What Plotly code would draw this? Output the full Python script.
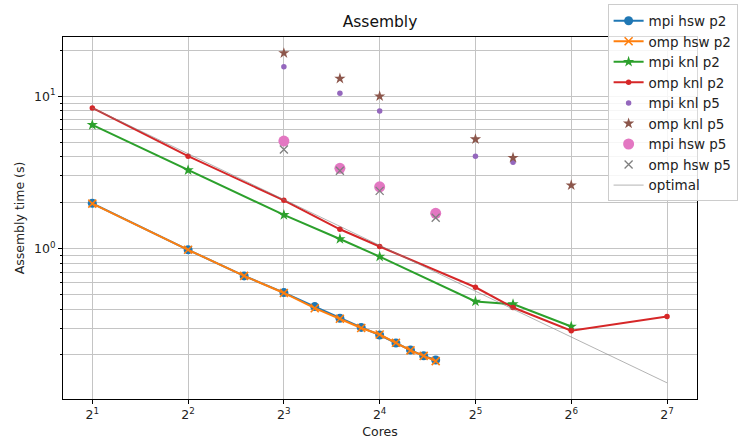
import plotly.graph_objects as go
import math

# ---- data ----
hsw_cores = [2, 4, 6, 8, 10, 12, 14, 16, 18, 20, 22, 24]
mpi_hsw_p2 = [1.98, 0.98, 0.66, 0.513, 0.415, 0.348, 0.303, 0.270, 0.239, 0.215, 0.197, 0.185]
omp_hsw_p2 = [1.97, 0.98, 0.66, 0.510, 0.405, 0.345, 0.300, 0.272, 0.240, 0.214, 0.197, 0.182]

knl_cores_mpi = [2, 4, 8, 12, 16, 32, 42, 64]
mpi_knl_p2 = [6.48, 3.27, 1.66, 1.154, 0.884, 0.448, 0.431, 0.307]
knl_cores_omp = [2, 4, 8, 12, 16, 32, 42, 64, 128]
omp_knl_p2 = [8.38, 4.04, 2.07, 1.336, 1.03, 0.556, 0.409, 0.288, 0.357]

mpi_knl_p5_cores = [8, 12, 16, 32, 42]
mpi_knl_p5 = [15.6, 10.46, 8.01, 4.04, 3.69]
omp_knl_p5_cores = [8, 12, 16, 32, 42, 64]
omp_knl_p5 = [19.2, 13.06, 10.0, 5.22, 3.94, 2.60]
mpi_hsw_p5_cores = [8, 12, 16, 24]
mpi_hsw_p5 = [5.07, 3.36, 2.54, 1.70]
omp_hsw_p5_cores = [8, 12, 16, 24]
omp_hsw_p5 = [4.47, 3.24, 2.39, 1.59]

optimal_cores = [2, 4, 8, 16, 32, 64, 128]
optimal = [8.38, 4.19, 2.095, 1.0475, 0.524, 0.262, 0.131]

x_ticks = [2, 4, 8, 16, 32, 64, 128]
x_ticktext = ["2<sup>1</sup>", "2<sup>2</sup>", "2<sup>3</sup>", "2<sup>4</sup>",
              "2<sup>5</sup>", "2<sup>6</sup>", "2<sup>7</sup>"]
y_ticks = [1, 10]
y_ticktext = ["10<sup>0</sup>", "10<sup>1</sup>"]
y_minor = [0.2, 0.3, 0.4, 0.5, 0.6, 0.7, 0.8, 0.9, 2, 3, 4, 5, 6, 7, 8, 9, 20]

BLUE, ORANGE, GREEN, RED = "#1f77b4", "#ff7f0e", "#2ca02c", "#d62728"
PURPLE, BROWN, PINK, GRAY = "#9467bd", "#8c564b", "#e377c2", "#7f7f7f"

fig = go.Figure()
fig.add_trace(go.Scatter(x=hsw_cores, y=mpi_hsw_p2, name="mpi hsw p2", mode="lines+markers",
                         line=dict(color=BLUE, width=2),
                         marker=dict(symbol="circle", size=9, color=BLUE)))
fig.add_trace(go.Scatter(x=hsw_cores, y=omp_hsw_p2, name="omp hsw p2", mode="lines+markers",
                         line=dict(color=ORANGE, width=2),
                         marker=dict(symbol="x-thin", size=8, color=ORANGE,
                                     line=dict(color=ORANGE, width=1.6))))
fig.add_trace(go.Scatter(x=knl_cores_mpi, y=mpi_knl_p2, name="mpi knl p2", mode="lines+markers",
                         line=dict(color=GREEN, width=2),
                         marker=dict(symbol="star", size=8.5, color=GREEN)))
fig.add_trace(go.Scatter(x=knl_cores_omp, y=omp_knl_p2, name="omp knl p2", mode="lines+markers",
                         line=dict(color=RED, width=2),
                         marker=dict(symbol="circle", size=5.5, color=RED)))
fig.add_trace(go.Scatter(x=mpi_knl_p5_cores, y=mpi_knl_p5, name="mpi knl p5", mode="markers",
                         marker=dict(symbol="circle", size=5.5, color=PURPLE)))
fig.add_trace(go.Scatter(x=omp_knl_p5_cores, y=omp_knl_p5, name="omp knl p5", mode="markers",
                         marker=dict(symbol="star", size=8.5, color=BROWN)))
fig.add_trace(go.Scatter(x=mpi_hsw_p5_cores, y=mpi_hsw_p5, name="mpi hsw p5", mode="markers",
                         marker=dict(symbol="circle", size=11, color=PINK)))
fig.add_trace(go.Scatter(x=omp_hsw_p5_cores, y=omp_hsw_p5, name="omp hsw p5", mode="markers",
                         marker=dict(symbol="x-thin", size=8, color=GRAY,
                                     line=dict(color=GRAY, width=1.3))))
fig.add_trace(go.Scatter(x=optimal_cores, y=optimal, name="optimal", mode="lines",
                         line=dict(color="rgba(128,128,128,0.6)", width=1)))

font = "DejaVu Sans, sans-serif"
fig.update_layout(
    width=740, height=445,
    margin=dict(l=63, r=43, t=37, b=46, autoexpand=False),
    paper_bgcolor="white", plot_bgcolor="white",
    font=dict(family=font, size=12, color="#222"),
    title=dict(text="Assembly", x=0.5, xref="paper", xanchor="center",
               y=1 - 22 / 445, yref="container", yanchor="middle",
               font=dict(size=15.5, color="#111")),
    legend=dict(x=0.859, y=1.09, xanchor="left", yanchor="top",
                bgcolor="rgba(255,255,255,0.85)", bordercolor="#cccccc", borderwidth=1,
                font=dict(size=13.5, color="#222"), tracegroupgap=0),
    xaxis=dict(type="log", range=[math.log10(2 ** 0.694), math.log10(2 ** 7.313)],
               tickvals=x_ticks, ticktext=x_ticktext,
               showgrid=True, gridcolor="#c4c4c4", gridwidth=1,
               showline=True, linecolor="black", linewidth=1, mirror=True,
               ticks="outside", ticklen=4, tickcolor="black",
               tickfont=dict(size=12.5),
               zeroline=False,
               title=dict(text="Cores", font=dict(size=12.5), standoff=6)),
    yaxis=dict(type="log", range=[-0.989, 1.389],
               tickvals=y_ticks, ticktext=y_ticktext,
               showgrid=True, gridcolor="#c4c4c4", gridwidth=1,
               showline=True, linecolor="black", linewidth=1, mirror=True,
               ticks="outside", ticklen=4, tickcolor="black",
               tickfont=dict(size=12.5),
               minor=dict(tickvals=y_minor, ticks="outside", ticklen=2, tickcolor="black",
                          showgrid=True, gridcolor="#c4c4c4", gridwidth=1),
               zeroline=False,
               title=dict(text="Assembly time (s)", font=dict(size=12.5), standoff=6)),
)

fig.write_html("out.html")
